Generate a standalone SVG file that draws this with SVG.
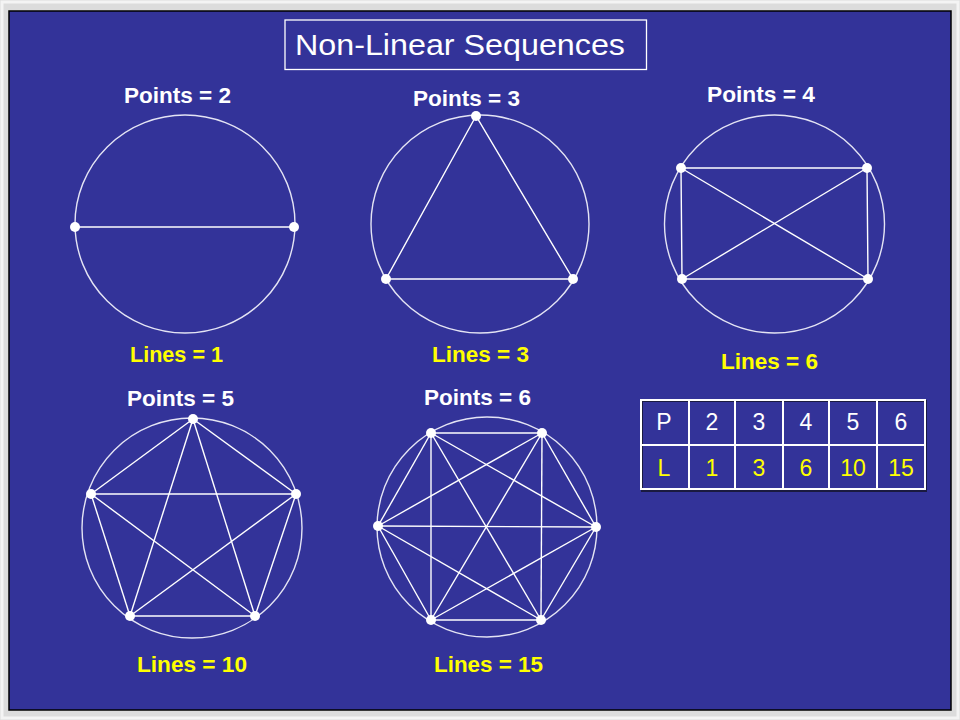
<svg xmlns="http://www.w3.org/2000/svg" width="960" height="720" viewBox="0 0 960 720">
<style>
.bg{fill:#333399}
.circ{fill:none;stroke:#e4e4f4;stroke-width:1.4}
.ln{stroke:#ffffff;stroke-width:1.4;fill:none}
.dot{fill:#ffffff}
.lbl{font-family:"Liberation Sans",Arial,sans-serif;font-size:22px;font-weight:bold;fill:#ffffff}
.yl{font-family:"Liberation Sans",Arial,sans-serif;font-size:22px;font-weight:bold;fill:#ffff00}
.ttl{font-family:"Liberation Sans",Arial,sans-serif;font-size:29px;fill:#ffffff}
.tb{font-family:"Liberation Sans",Arial,sans-serif;font-size:23px;text-anchor:middle}
.grid{stroke:#ffffff;stroke-width:2;fill:none}
</style>
<rect x="0" y="0" width="960" height="720" fill="#dcdcdc"/>
<rect x="2" y="2" width="956" height="716" fill="none" stroke="#f4f4f4" stroke-width="3"/>
<rect x="9" y="11" width="942" height="699" class="bg" stroke="#000000" stroke-width="1.5"/>

<g id="title">
<rect x="285" y="20" width="361.5" height="49.5" fill="none" stroke="#ffffff" stroke-width="1.3"/>
<text x="295" y="55" class="ttl" textLength="330" lengthAdjust="spacingAndGlyphs">Non-Linear Sequences</text>
</g>

<g id="labels">
<text x="124" y="103" class="lbl" textLength="107" lengthAdjust="spacingAndGlyphs">Points = 2</text>
<text x="413" y="106" class="lbl" textLength="107" lengthAdjust="spacingAndGlyphs">Points = 3</text>
<text x="707" y="102" class="lbl" textLength="108" lengthAdjust="spacingAndGlyphs">Points = 4</text>
<text x="130" y="362" class="yl" textLength="93" lengthAdjust="spacingAndGlyphs">Lines = 1</text>
<text x="432" y="362" class="yl" textLength="97" lengthAdjust="spacingAndGlyphs">Lines = 3</text>
<text x="721" y="369" class="yl" textLength="97" lengthAdjust="spacingAndGlyphs">Lines = 6</text>
<text x="127" y="406" class="lbl" textLength="107" lengthAdjust="spacingAndGlyphs">Points = 5</text>
<text x="424" y="405" class="lbl" textLength="107" lengthAdjust="spacingAndGlyphs">Points = 6</text>
<text x="137" y="672" class="yl" textLength="110" lengthAdjust="spacingAndGlyphs">Lines = 10</text>
<text x="434" y="672" class="yl" textLength="109" lengthAdjust="spacingAndGlyphs">Lines = 15</text>
</g>

<g id="node-p2">
<ellipse cx="185" cy="224" rx="110" ry="109" class="circ"/>
<line x1="75" y1="227" x2="294" y2="227" class="ln"/>
<circle cx="75" cy="227" r="5" class="dot"/>
<circle cx="294" cy="227" r="5" class="dot"/>
</g>

<g id="node-p3">
<ellipse cx="480" cy="224" rx="109" ry="109" class="circ"/>
<polygon points="476,116 386,279 573,279" class="ln"/>
<circle cx="476" cy="116" r="5" class="dot"/>
<circle cx="386" cy="279" r="5" class="dot"/>
<circle cx="573" cy="279" r="5" class="dot"/>
</g>

<g id="node-p4">
<ellipse cx="774.5" cy="224" rx="110" ry="109" class="circ"/>
<polygon points="681,168 867,168 868,279 682,279" class="ln"/>
<line x1="681" y1="168" x2="868" y2="279" class="ln"/>
<line x1="867" y1="168" x2="682" y2="279" class="ln"/>
<circle cx="681" cy="168" r="5" class="dot"/>
<circle cx="867" cy="168" r="5" class="dot"/>
<circle cx="682" cy="279" r="5" class="dot"/>
<circle cx="868" cy="279" r="5" class="dot"/>
</g>

<g id="node-p5">
<ellipse cx="192" cy="528" rx="110" ry="110" class="circ"/>
<g class="ln">
<line x1="193" y1="419" x2="91" y2="494"/>
<line x1="193" y1="419" x2="296" y2="494"/>
<line x1="193" y1="419" x2="130" y2="616"/>
<line x1="193" y1="419" x2="255" y2="616"/>
<line x1="91" y1="494" x2="296" y2="494"/>
<line x1="91" y1="494" x2="130" y2="616"/>
<line x1="91" y1="494" x2="255" y2="616"/>
<line x1="296" y1="494" x2="130" y2="616"/>
<line x1="296" y1="494" x2="255" y2="616"/>
<line x1="130" y1="616" x2="255" y2="616"/>
</g>
<circle cx="193" cy="419" r="5" class="dot"/>
<circle cx="91" cy="494" r="5" class="dot"/>
<circle cx="296" cy="494" r="5" class="dot"/>
<circle cx="130" cy="616" r="5" class="dot"/>
<circle cx="255" cy="616" r="5" class="dot"/>
</g>

<g id="node-p6">
<ellipse cx="487" cy="527" rx="110" ry="110" class="circ"/>
<g class="ln">
<line x1="431" y1="433" x2="542" y2="433"/>
<line x1="431" y1="433" x2="378" y2="526"/>
<line x1="431" y1="433" x2="596" y2="527"/>
<line x1="431" y1="433" x2="431" y2="620"/>
<line x1="431" y1="433" x2="541" y2="620"/>
<line x1="542" y1="433" x2="378" y2="526"/>
<line x1="542" y1="433" x2="596" y2="527"/>
<line x1="542" y1="433" x2="431" y2="620"/>
<line x1="542" y1="433" x2="541" y2="620"/>
<line x1="378" y1="526" x2="596" y2="527"/>
<line x1="378" y1="526" x2="431" y2="620"/>
<line x1="378" y1="526" x2="541" y2="620"/>
<line x1="596" y1="527" x2="431" y2="620"/>
<line x1="596" y1="527" x2="541" y2="620"/>
<line x1="431" y1="620" x2="541" y2="620"/>
</g>
<circle cx="431" cy="433" r="5" class="dot"/>
<circle cx="542" cy="433" r="5" class="dot"/>
<circle cx="378" cy="526" r="5" class="dot"/>
<circle cx="596" cy="527" r="5" class="dot"/>
<circle cx="431" cy="620" r="5" class="dot"/>
<circle cx="541" cy="620" r="5" class="dot"/>
</g>

<g id="table">
<rect x="642" y="401" width="284" height="90" fill="none" stroke="#1a1a40" stroke-width="2"/>
<g class="grid">
<rect x="641" y="400" width="284" height="89"/>
<line x1="641" y1="445" x2="925" y2="445"/>
<line x1="689" y1="400" x2="689" y2="489"/>
<line x1="735" y1="400" x2="735" y2="489"/>
<line x1="783" y1="400" x2="783" y2="489"/>
<line x1="829" y1="400" x2="829" y2="489"/>
<line x1="877" y1="400" x2="877" y2="489"/>
</g>
<g class="tb" fill="#ffffff">
<text x="664" y="430">P</text>
<text x="712" y="430">2</text>
<text x="759" y="430">3</text>
<text x="806" y="430">4</text>
<text x="853" y="430">5</text>
<text x="901" y="430">6</text>
</g>
<g class="tb" fill="#ffff00">
<text x="664" y="476">L</text>
<text x="712" y="476">1</text>
<text x="759" y="476">3</text>
<text x="806" y="476">6</text>
<text x="853" y="476">10</text>
<text x="901" y="476">15</text>
</g>
</g>
</svg>
